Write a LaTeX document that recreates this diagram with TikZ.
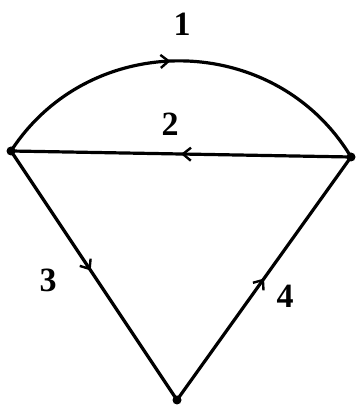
\documentclass[tikz,border=0pt]{standalone}
\usepackage{fontspec}
\setmainfont{Liberation Serif}
\usetikzlibrary{arrows.meta, decorations.markings}

\begin{document}
\begin{tikzpicture}[
        x=1pt, y=1pt,
        vertex/.style={circle, fill=black, inner sep=0pt, minimum size=9pt},
        num/.style={font=\fontsize{34}{36}\selectfont\bfseries},
        edgeline/.style={line width=3.2pt},
        midarrow/.style={postaction={decorate}, decoration={markings, mark=at position #1 with {\arrow{Straight Barb[length=8pt, width=13pt, line width=2.4pt]}}}}
    ]
        \useasboundingbox (0,0) rectangle (356,412);

        \node[vertex] (left) at (11,261) {};
        \node[vertex] (right) at (351,255) {};
        \node[vertex] (bottom) at (177,12) {};

        \draw[edgeline, midarrow=0.47] (left.center) to[bend left=58, looseness=1.1] (right.center);
        \draw[edgeline, midarrow=0.5] (right.center) -- (left.center);
        \draw[edgeline, midarrow=0.48] (left.center) -- (bottom.center);
        \draw[edgeline, midarrow=0.5] (bottom.center) -- (right.center);

        \node[num] (n1) at (182,388) {1};
        \node[num] (n2) at (170,288) {2};
        \node[num] (n3) at (48,132) {3};
        \node[num] (n4) at (285,116) {4};
    \end{tikzpicture}
\end{document}
